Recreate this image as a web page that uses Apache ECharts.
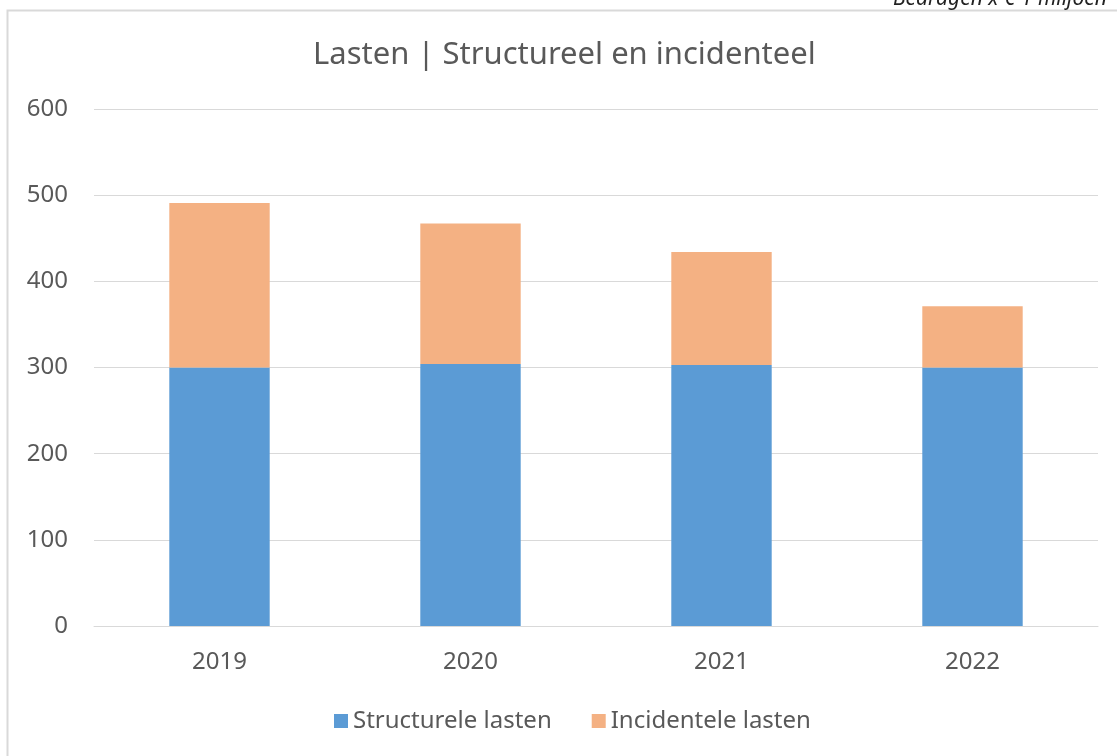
<!DOCTYPE html>
<html>
<head>
<meta charset="utf-8">
<script src="https://cdn.jsdelivr.net/npm/echarts@6/dist/echarts.min.js"></script>
<style>html,body{margin:0;padding:0;background:#fff;}#c{width:1117px;height:756px;}</style>
</head>
<body>
<div id="c"></div>
<script>
const categories = ['2019', '2020', '2021', '2022'];
const structureel = [300, 304, 303, 300];
const incidenteel = [191, 163, 131, 71];
const yTicks = [0, 100, 200, 300, 400, 500, 600];
const seriesNames = ['Structurele lasten', 'Incidentele lasten'];
const titleText = 'Lasten | Structureel en incidenteel';
const noteText = 'Bedragen x € 1 miljoen';

const font = '"Noto Sans", "Open Sans", sans-serif';
const chart = echarts.init(document.getElementById('c'));
chart.setOption({
  animation: false,
  backgroundColor: '#fff',
  graphic: [
    { type: 'rect', shape: { x: 7.5, y: 10.5, width: 1200, height: 800 },
      style: { fill: 'none', stroke: '#d9d9d9', lineWidth: 2 }, z: -1 },
    { type: 'text', right: 10, top: -11,
      style: { text: noteText, font: 'italic 21px ' + font, fill: '#222' } }
  ],
  title: {
    text: titleText, left: 313, top: 40, padding: 0,
    textStyle: { color: '#595959', fontSize: 31, fontWeight: 'normal', fontFamily: font }
  },
  legend: {
    bottom: 23, left: 334, itemWidth: 14, itemHeight: 14, itemGap: 40,
    padding: 0,
    icon: 'rect',
    textStyle: { color: '#595959', fontSize: 24, fontFamily: font },
    data: seriesNames
  },
  grid: { left: 94, right: 19, top: 109, bottom: 130, containLabel: false },
  xAxis: {
    type: 'category', data: categories,
    axisLine: { show: true, lineStyle: { color: '#d9d9d9' } },
    axisTick: { show: false },
    axisLabel: { color: '#595959', fontSize: 24, fontFamily: font, margin: 24 }
  },
  yAxis: {
    type: 'value', min: yTicks[0], max: yTicks[yTicks.length - 1], interval: 100,
    axisLine: { show: false }, axisTick: { show: false },
    axisLabel: { color: '#595959', fontSize: 24, fontFamily: font, margin: 26 },
    splitLine: { lineStyle: { color: '#d9d9d9', width: 1 } }
  },
  series: [
    { name: seriesNames[0], type: 'bar', stack: 'a', data: structureel, barWidth: '40%',
      itemStyle: { color: '#5b9bd5' } },
    { name: seriesNames[1], type: 'bar', stack: 'a', data: incidenteel, barWidth: '40%',
      itemStyle: { color: '#f4b183' } }
  ]
});
</script>
</body>
</html>
